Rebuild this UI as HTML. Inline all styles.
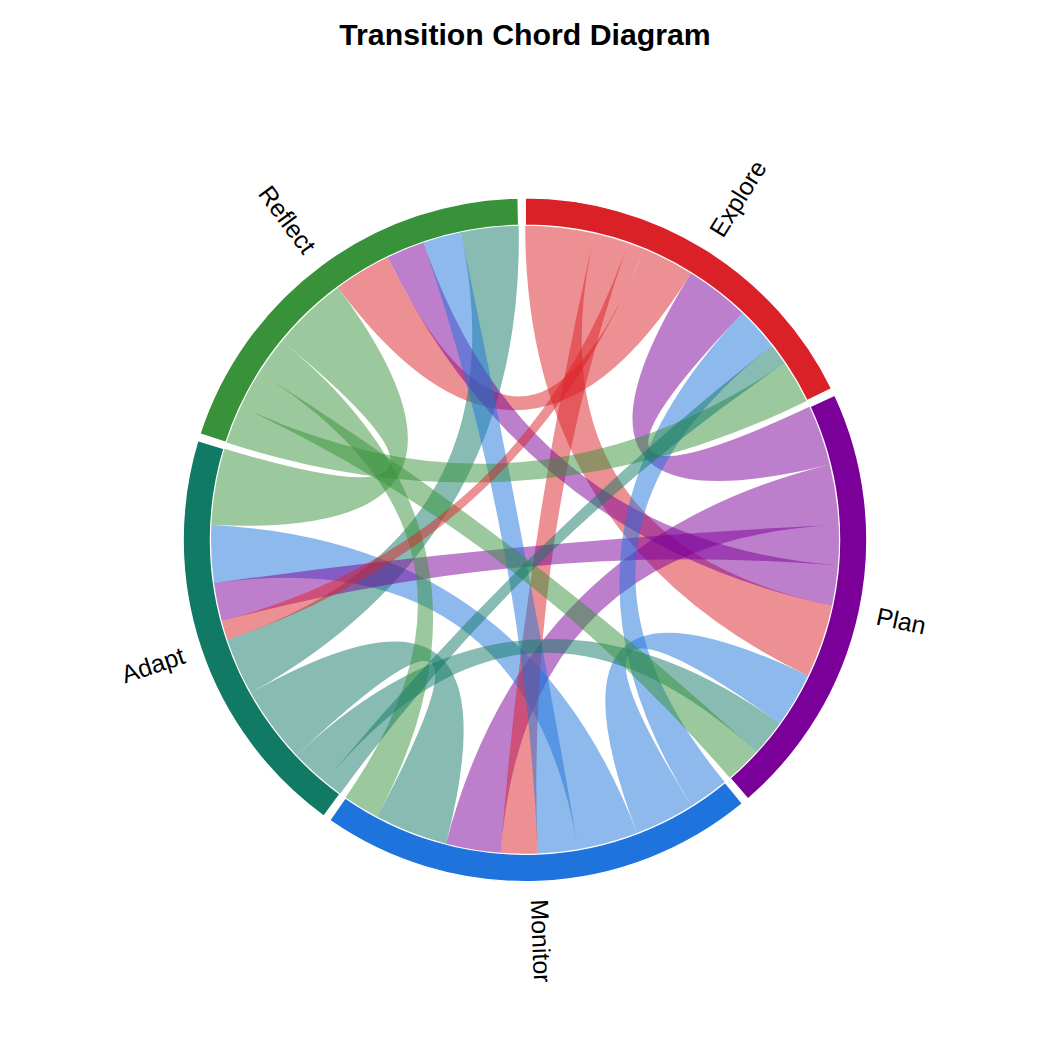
<!DOCTYPE html>
<html><head><meta charset="utf-8"><style>
html,body{margin:0;padding:0;background:#fff;width:1050px;height:1050px;overflow:hidden}
svg{display:block;font-family:"Liberation Sans",sans-serif}
</style></head><body>
<svg width="1050" height="1050" viewBox="0 0 1050 1050">
<rect width="1050" height="1050" fill="#fff"/>
<text x="525.00" y="45.00" text-anchor="middle" font-size="30.25" font-weight="bold">Transition Chord Diagram</text>
<path d="M525.24,197.85 A341.90,341.90 0 0 1 831.69,388.63 L807.11,400.74 A314.50,314.50 0 0 0 525.22,225.25 Z" fill="#db2128" stroke="#fff" stroke-width="1.43"/>
<path d="M834.76,395.04 A341.90,341.90 0 0 1 747.91,798.99 L730.05,778.22 A314.50,314.50 0 0 0 809.94,406.63 Z" fill="#7b0099" stroke="#fff" stroke-width="1.43"/>
<path d="M742.48,803.57 A341.90,341.90 0 0 1 329.63,820.33 L345.29,797.84 A314.50,314.50 0 0 0 725.05,782.42 Z" fill="#1e73dc" stroke="#fff" stroke-width="1.43"/>
<path d="M323.84,816.21 A341.90,341.90 0 0 1 197.78,440.64 L224.00,448.59 A314.50,314.50 0 0 0 339.96,794.06 Z" fill="#117a65" stroke="#fff" stroke-width="1.43"/>
<path d="M199.91,433.87 A341.90,341.90 0 0 1 518.14,197.92 L518.69,225.31 A314.50,314.50 0 0 0 225.96,442.36 Z" fill="#38923a" stroke="#fff" stroke-width="1.43"/>
<path d="M525.22,225.75 A314.00,314.00 0 0 1 594.49,233.54 Q525.00,539.75 831.98,605.75 A314.00,314.00 0 0 1 808.05,675.68 Q525.00,539.75 525.22,225.75 Z" fill="#db2128" fill-opacity="0.500"/>
<path d="M296.62,755.25 A314.00,314.00 0 0 1 250.84,692.83 Q525.00,539.75 446.00,843.65 A314.00,314.00 0 0 1 377.15,816.76 Q525.00,539.75 296.62,755.25 Z" fill="#117a65" fill-opacity="0.500"/>
<path d="M281.96,340.94 A314.00,314.00 0 0 1 337.98,287.52 Q525.00,539.75 211.35,525.02 A314.00,314.00 0 0 1 224.48,448.73 Q525.00,539.75 281.96,340.94 Z" fill="#38923a" fill-opacity="0.500"/>
<path d="M644.38,249.33 A314.00,314.00 0 0 1 690.95,273.19 Q525.00,539.75 337.98,287.52 A314.00,314.00 0 0 1 387.68,257.37 Q525.00,539.75 644.38,249.33 Z" fill="#db2128" fill-opacity="0.500"/>
<path d="M809.49,406.84 A314.00,314.00 0 0 1 829.82,464.38 Q525.00,539.75 690.95,273.19 A314.00,314.00 0 0 1 742.55,313.32 Q525.00,539.75 809.49,406.84 Z" fill="#7b0099" fill-opacity="0.500"/>
<path d="M829.82,464.38 A314.00,314.00 0 0 1 838.64,524.76 Q525.00,539.75 500.73,852.81 A314.00,314.00 0 0 1 446.00,843.65 Q525.00,539.75 829.82,464.38 Z" fill="#7b0099" fill-opacity="0.500"/>
<path d="M691.70,805.85 A314.00,314.00 0 0 1 637.08,833.07 Q525.00,539.75 808.05,675.68 A314.00,314.00 0 0 1 779.70,723.39 Q525.00,539.75 691.70,805.85 Z" fill="#1e73dc" fill-opacity="0.500"/>
<path d="M637.08,833.07 A314.00,314.00 0 0 1 578.23,849.21 Q525.00,539.75 214.01,583.09 A314.00,314.00 0 0 1 211.35,525.02 Q525.00,539.75 637.08,833.07 Z" fill="#1e73dc" fill-opacity="0.500"/>
<path d="M250.84,692.83 A314.00,314.00 0 0 1 227.32,639.67 Q525.00,539.75 460.94,232.35 A314.00,314.00 0 0 1 518.70,225.81 Q525.00,539.75 250.84,692.83 Z" fill="#117a65" fill-opacity="0.500"/>
<path d="M594.49,233.54 A314.00,314.00 0 0 1 628.05,243.14 Q525.00,539.75 537.74,853.49 A314.00,314.00 0 0 1 500.73,852.81 Q525.00,539.75 594.49,233.54 Z" fill="#db2128" fill-opacity="0.500"/>
<path d="M838.64,524.76 A314.00,314.00 0 0 1 837.94,565.47 Q525.00,539.75 221.72,621.10 A314.00,314.00 0 0 1 214.01,583.09 Q525.00,539.75 838.64,524.76 Z" fill="#7b0099" fill-opacity="0.500"/>
<path d="M837.94,565.47 A314.00,314.00 0 0 1 831.98,605.75 Q525.00,539.75 387.68,257.37 A314.00,314.00 0 0 1 423.54,242.59 Q525.00,539.75 837.94,565.47 Z" fill="#7b0099" fill-opacity="0.500"/>
<path d="M724.73,782.04 A314.00,314.00 0 0 1 691.70,805.85 Q525.00,539.75 742.55,313.32 A314.00,314.00 0 0 1 771.83,345.66 Q525.00,539.75 724.73,782.04 Z" fill="#1e73dc" fill-opacity="0.500"/>
<path d="M578.23,849.21 A314.00,314.00 0 0 1 537.74,853.49 Q525.00,539.75 423.54,242.59 A314.00,314.00 0 0 1 460.94,232.35 Q525.00,539.75 578.23,849.21 Z" fill="#1e73dc" fill-opacity="0.500"/>
<path d="M324.93,781.76 A314.00,314.00 0 0 1 296.62,755.25 Q525.00,539.75 779.70,723.39 A314.00,314.00 0 0 1 756.32,752.09 Q525.00,539.75 324.93,781.76 Z" fill="#117a65" fill-opacity="0.500"/>
<path d="M226.44,442.51 A314.00,314.00 0 0 1 240.70,406.45 Q525.00,539.75 784.71,363.27 A314.00,314.00 0 0 1 806.66,400.96 Q525.00,539.75 226.44,442.51 Z" fill="#38923a" fill-opacity="0.500"/>
<path d="M240.70,406.45 A314.00,314.00 0 0 1 259.30,372.42 Q525.00,539.75 756.32,752.09 A314.00,314.00 0 0 1 729.72,777.84 Q525.00,539.75 240.70,406.45 Z" fill="#38923a" fill-opacity="0.500"/>
<path d="M259.30,372.42 A314.00,314.00 0 0 1 281.96,340.94 Q525.00,539.75 377.15,816.76 A314.00,314.00 0 0 1 345.57,797.43 Q525.00,539.75 259.30,372.42 Z" fill="#38923a" fill-opacity="0.500"/>
<path d="M628.05,243.14 A314.00,314.00 0 0 1 644.38,249.33 Q525.00,539.75 227.32,639.67 A314.00,314.00 0 0 1 221.72,621.10 Q525.00,539.75 628.05,243.14 Z" fill="#db2128" fill-opacity="0.500"/>
<path d="M340.26,793.65 A314.00,314.00 0 0 1 324.93,781.76 Q525.00,539.75 771.83,345.66 A314.00,314.00 0 0 1 784.71,363.27 Q525.00,539.75 340.26,793.65 Z" fill="#117a65" fill-opacity="0.500"/>
<text x="715.26" y="234.14" transform="rotate(-58.095 715.26 234.14)" text-anchor="start" dominant-baseline="central" font-size="24.90">Explore</text>
<text x="876.96" y="615.42" transform="rotate(12.134 876.96 615.42)" text-anchor="start" dominant-baseline="central" font-size="24.90">Plan</text>
<text x="539.61" y="899.45" transform="rotate(87.675 539.61 899.45)" text-anchor="start" dominant-baseline="central" font-size="24.90">Monitor</text>
<text x="183.71" y="654.31" transform="rotate(341.445 183.71 654.31)" text-anchor="end" dominant-baseline="central" font-size="24.90">Adapt</text>
<text x="310.59" y="250.57" transform="rotate(413.445 310.59 250.57)" text-anchor="end" dominant-baseline="central" font-size="24.90">Reflect</text>
</svg></body></html>
